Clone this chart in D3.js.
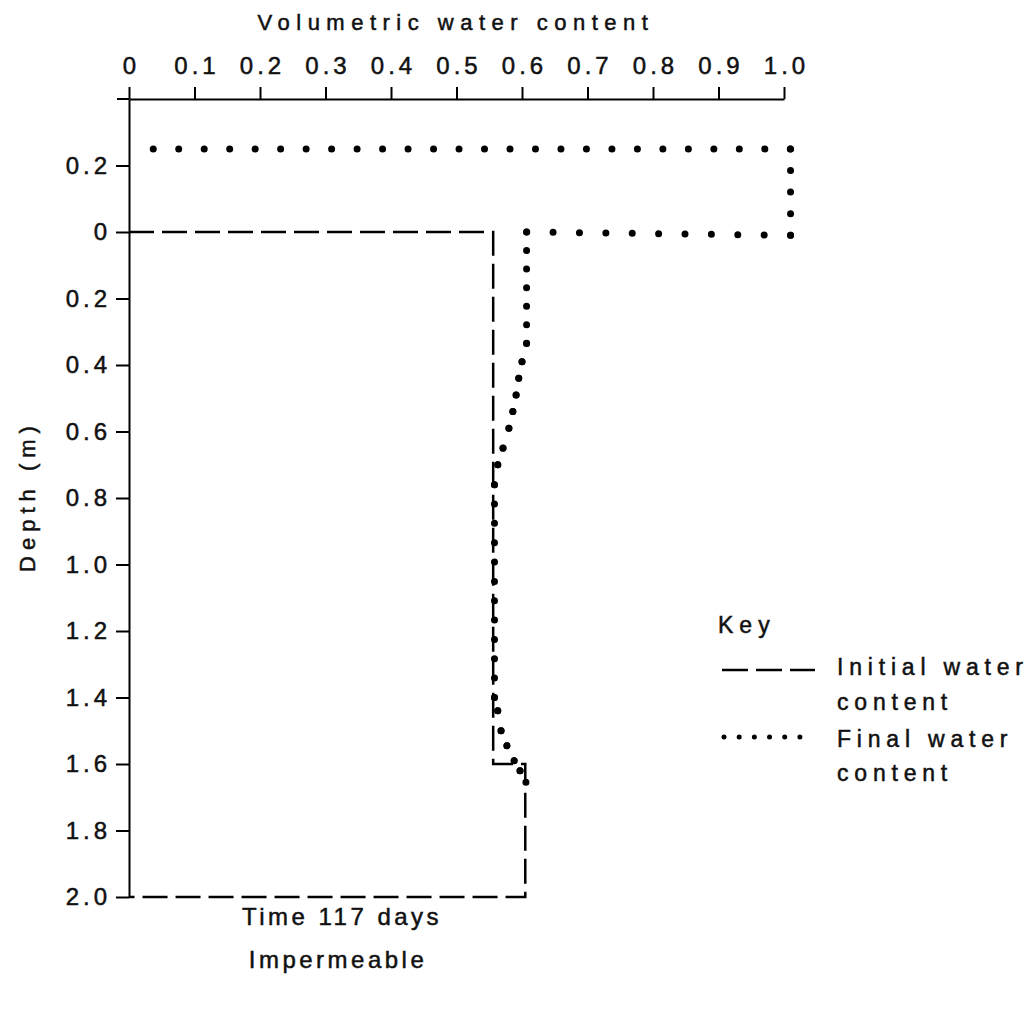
<!DOCTYPE html>
<html>
<head>
<meta charset="utf-8">
<script src="https://cdn.jsdelivr.net/npm/d3@7"></script>
<style>
  body { margin: 0; background: #fff; }
  text { font-family: "Liberation Sans", Arial, sans-serif; fill: #111; stroke: #111; stroke-width: 0.5px; }
</style>
</head>
<body>
<div id="chart"></div>
<script>
// tick values
const thetaTicks = [0, 0.1, 0.2, 0.3, 0.4, 0.5, 0.6, 0.7, 0.8, 0.9, 1.0];
const depthTicks = [-0.2, 0, 0.2, 0.4, 0.6, 0.8, 1.0, 1.2, 1.4, 1.6, 1.8, 2.0];

// initial water content profile (dashed)
const initialTheta = [0, 0.556, 0.556, 0.605, 0.605, 0];
const initialDepth = [0, 0, 1.6, 1.6, 2.0, 2.0];

// final water content profile (dotted)
const finalTheta = [0.037, 1.01, 1.01, 0.607, 0.607, 0.600, 0.595, 0.591, 0.586, 0.580, 0.571, 0.563, 0.558, 0.558, 0.563, 0.568, 0.577, 0.588, 0.597, 0.606];
const finalDepth = [-0.25, -0.25, 0.01, 0.0, 0.335, 0.39, 0.44, 0.49, 0.54, 0.59, 0.65, 0.70, 0.76, 1.40, 1.44, 1.50, 1.545, 1.59, 1.62, 1.655];

var width = 1036
var height = 1016

var svg = d3.select("#chart")
  .append("svg")
    .attr("width", width)
    .attr("height", height)

var x = d3.scaleLinear().domain([0, 1]).range([129, 784])
var y = d3.scaleLinear().domain([-0.4, 2.0]).range([99, 897])

// top axis
var xAxis = d3.axisTop(x)
    .tickValues(thetaTicks)
    .tickSize(12)
    .tickSizeOuter(0)
    .tickPadding(13)
    .tickFormat(d => d == 0 ? "0" : d3.format(".1f")(d))

var gx = svg.append("g")
    .attr("transform", "translate(0," + y(-0.4) + ")")
    .call(xAxis)
gx.select(".domain").attr("stroke-width", 2)
gx.selectAll(".tick line").attr("stroke-width", 2)
gx.selectAll("text")
    .style("font-size", "24px")
    .style("letter-spacing", "4px")
    .attr("fill", "#111")
    .attr("dx", 2)

// small extension of the top axis to the left of the corner
svg.append("line")
    .attr("x1", x(0) - 12).attr("x2", x(0))
    .attr("y1", y(-0.4)).attr("y2", y(-0.4))
    .attr("stroke", "#000").attr("stroke-width", 2)

// left axis
var yAxis = d3.axisLeft(y)
    .tickValues(depthTicks)
    .tickSize(13)
    .tickSizeOuter(0)
    .tickPadding(5)
    .tickFormat(d => d == 0 ? "0" : d3.format(".1f")(Math.abs(d)))

var gy = svg.append("g")
    .attr("transform", "translate(" + x(0) + ",0)")
    .call(yAxis)
gy.select(".domain").attr("stroke-width", 2)
gy.selectAll(".tick line").attr("stroke-width", 2)
gy.selectAll("text")
    .style("font-size", "24px")
    .style("letter-spacing", "4px")
    .attr("fill", "#111")

// titles
svg.append("text")
    .attr("x", 456).attr("y", 30)
    .attr("text-anchor", "middle")
    .style("font-size", "22px")
    .style("letter-spacing", "6.5px")
    .text("Volumetric water content")

svg.append("text")
    .attr("transform", "translate(35,496) rotate(-90)")
    .attr("text-anchor", "middle")
    .style("font-size", "22px")
    .style("letter-spacing", "6px")
    .text("Depth (m)")

svg.append("text")
    .attr("x", 342).attr("y", 925)
    .attr("text-anchor", "middle")
    .style("font-size", "24px")
    .style("letter-spacing", "3.5px")
    .text("Time 117 days")

svg.append("text")
    .attr("x", 338).attr("y", 968)
    .attr("text-anchor", "middle")
    .style("font-size", "24px")
    .style("letter-spacing", "3.5px")
    .text("Impermeable")

// profiles
var line = d3.line()
    .x(i => x(i[0]))
    .y(i => y(i[1]))

var initialPts = initialTheta.map((t, i) => [t, initialDepth[i]])
var finalPts = finalTheta.map((t, i) => [t, finalDepth[i]])

svg.append("path")
    .attr("d", line(initialPts))
    .attr("fill", "none")
    .attr("stroke", "#000")
    .attr("stroke-width", 2.5)
    .attr("stroke-dasharray", "25 8")

// dotted profile drawn segment by segment so the dots land on every vertex
// (rows are spaced a bit wider than the columns, like the original plot)
var segs = d3.pairs(finalPts)
svg.append("g")
  .selectAll("path")
  .data(segs)
  .enter()
  .append("path")
    .attr("d", d => line(d))
    .attr("fill", "none")
    .attr("stroke", "#000")
    .attr("stroke-width", 7)
    .attr("stroke-linecap", "round")
    .attr("stroke-dasharray", function(d){
      var dx = x(d[1][0]) - x(d[0][0])
      var dy = y(d[1][1]) - y(d[0][1])
      var len = Math.sqrt(dx * dx + dy * dy)
      var step = Math.abs(dx) > Math.abs(dy) ? 26 : 19.5
      var n = Math.max(1, Math.round(len / step))
      return "0 " + (len / n - 0.01)
    })

// legend
var legend = svg.append("g")

legend.append("text")
    .attr("x", 718).attr("y", 633)
    .style("font-size", "23px")
    .style("letter-spacing", "6px")
    .text("Key")

legend.append("line")
    .attr("x1", 722).attr("x2", 815)
    .attr("y1", 670).attr("y2", 670)
    .attr("stroke", "#000")
    .attr("stroke-width", 2.5)
    .attr("stroke-dasharray", "26 8")

legend.append("line")
    .attr("x1", 724).attr("x2", 800)
    .attr("y1", 737).attr("y2", 737)
    .attr("stroke", "#000")
    .attr("stroke-width", 5)
    .attr("stroke-linecap", "round")
    .attr("stroke-dasharray", "0 15.18")

var keyLines = [["Initial water", 675], ["content", 710], ["Final water", 747], ["content", 781]]
legend.selectAll(".key")
  .data(keyLines)
  .enter()
  .append("text")
    .attr("class", "key")
    .attr("x", 837)
    .attr("y", d => d[1])
    .style("font-size", "23px")
    .style("letter-spacing", "5.8px")
    .text(d => d[0])
</script>
</body>
</html>
